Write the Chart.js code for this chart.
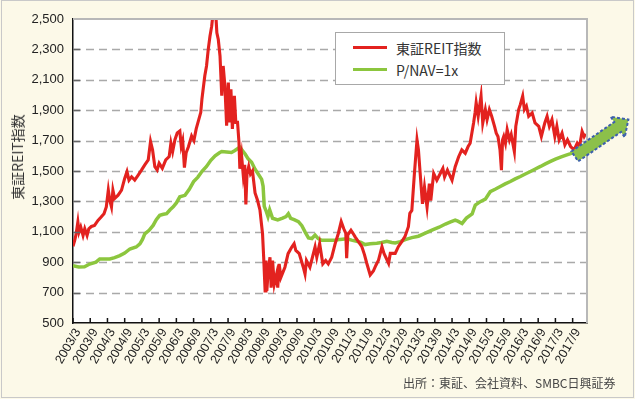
<!DOCTYPE html>
<html lang="ja">
<head>
<meta charset="utf-8">
<title>東証REIT指数とP/NAV=1x</title>
<script src="https://cdn.jsdelivr.net/npm/chart.js@4.4.1/dist/chart.umd.min.js"></script>
<style>
  html, body { margin: 0; padding: 0; background: #fcf9e8; }
  #wrap { position: relative; width: 635px; height: 399px; background: #fcf9e8; overflow: hidden; }
  #frame { position: absolute; left: 1px; top: 0; width: 631px; height: 396px; border: 1px solid #c9c9c9; pointer-events: none; }
  #chart { position: absolute; left: 0; top: 0; }
  #ytitle { position: absolute; left: 17px; top: 157px; transform: translate(-50%, -50%) rotate(-90deg);
            font: 14px "Noto Sans CJK JP", sans-serif; color: #333; white-space: nowrap; }
  #legend { position: absolute; left: 335px; top: 32px; width: 170px; height: 53px; box-sizing: border-box;
            background: #fff; border: 1.5px solid #a8a8a8; }
  #legend .item { position: absolute; left: 0; height: 20px; width: 100%; }
  #legend .swatch { position: absolute; left: 17px; top: 8px; width: 34px; height: 3px; }
  #legend .label { position: absolute; left: 60px; top: 0; line-height: 20px; font: 14px "Noto Sans CJK JP", sans-serif; color: #333; white-space: nowrap; }
  #source { position: absolute; left: 403px; top: 374px; font: 12px "Noto Sans CJK JP", sans-serif; color: #444; white-space: nowrap; }
</style>
</head>
<body>
<div id="wrap">
  <canvas id="chart" width="635" height="399"></canvas>
  <div id="ytitle">東証REIT指数</div>
  <div id="legend"></div>
  <div id="source">出所：東証、会社資料、SMBC日興証券</div>
  <div id="frame"></div>
</div>
<script>
// x = months since 2003/3
const tickLabels = ['2003/3', '2003/9', '2004/3', '2004/9', '2005/3', '2005/9', '2006/3', '2006/9',
  '2007/3', '2007/9', '2008/3', '2008/9', '2009/3', '2009/9', '2010/3', '2010/9', '2011/3', '2011/9',
  '2012/3', '2012/9', '2013/3', '2013/9', '2014/3', '2014/9', '2015/3', '2015/9', '2016/3', '2016/9',
  '2017/3', '2017/9'];
const yTicks = [500, 700, 900, 1100, 1300, 1500, 1700, 1900, 2100, 2300, 2500];

// 東証REIT指数
const reitMonths = [0, 0.6, 1.1, 1.7, 2.1, 2.7, 3.5, 4.1, 4.9, 5.5, 6.4, 7.5, 8.7, 9.8, 10.8, 11.6, 12.3,
  12.8, 13.4, 13.9, 14.5, 15.7, 16.9, 18, 18.8, 19.5, 20.4, 21.5, 22.7, 23.9, 25, 26.2, 27, 27.7, 28.5,
  29.3, 30, 31.1, 32.3, 33.5, 34.1, 34.7, 35.5, 36.3, 37.2, 37.7, 38.2, 38.8, 39.4, 40.2, 41.3, 42.1,
  42.9, 44.5, 44.9, 45.9, 46.5, 47.1, 47.7, 48.3, 48.9, 49.7, 50.1, 50.6, 51.2, 51.8, 52.3, 52.9, 53.5,
  54.1, 54.5, 55, 55.5, 56.2, 56.7, 57.3, 57.8, 58.1, 58.7, 59.3, 59.8, 60.2, 60.6, 61.2, 61.8, 62.5,
  63.4, 64.2, 65.1, 65.6, 66, 66.4, 66.9, 67.2, 67.5, 68, 68.6, 69, 69.5, 70.1, 70.9, 71.3, 71.8, 72.4,
  73.8, 74.9, 76.2, 77, 77.6, 78.8, 80.2, 80.8, 81.3, 82.5, 84.3, 84.9, 85.9, 87, 88, 88.9, 90.1, 91.3,
  92.4, 93.4, 94.3, 95, 95.3, 95.7, 96.8, 97.5, 98.3, 99.2, 100.6, 101.5, 102.3, 103.5, 104.6, 105.5,
  106.4, 107.6, 108.3, 109.9, 110.5, 112.2, 113.3, 114.5, 115.6, 116.8, 117.3, 118, 118.9, 119.8, 120.3,
  120.9, 121.7, 122.4, 123.3, 124.1, 124.6, 125.6, 126.7, 127.9, 128.8, 129.4, 130.4, 132, 133.1, 134.3,
  135.4, 136.6, 137.6, 138.3, 139.5, 140, 140.4, 141.1, 142.1, 142.7, 143.6, 144.2, 145, 145.8, 146.8,
  147.4, 148, 148.7, 149.2, 149.6, 150, 150.6, 151.2, 152, 152.6, 153.7, 154.2, 155.2, 155.8, 156.6,
  157.2, 157.9, 158.7, 159.9, 160.9, 162.2, 163.1, 164.3, 165.1, 165.9, 166.8, 167.8, 168.5, 169.3,
  170.3, 171.3, 172.2, 173.3, 174.5, 175.6, 176.4, 177.3, 178, 178.5];
const reitValues = [1005, 1043, 1087, 1164, 1098, 1131, 1076, 1120, 1076, 1120, 1135, 1142, 1175, 1197,
  1219, 1264, 1374, 1308, 1264, 1374, 1319, 1341, 1374, 1451, 1496, 1440, 1462, 1440, 1473, 1507, 1540,
  1573, 1694, 1639, 1529, 1507, 1551, 1518, 1573, 1595, 1683, 1628, 1706, 1750, 1763, 1664, 1700, 1522,
  1620, 1660, 1730, 1700, 1777, 1886, 1973, 2126, 2191, 2300, 2387, 2453, 2560, 2540, 2409, 2365, 2256,
  1995, 2191, 2060, 1798, 2082, 1820, 2038, 1777, 1995, 1820, 1820, 1689, 1515, 1602, 1471, 1540, 1280,
  1480, 1530, 1480, 1500, 1356, 1311, 1244, 1156, 1089, 933, 711, 911, 711, 850, 933, 733, 911, 756, 822,
  733, 889, 800, 867, 956, 1000, 1022, 978, 956, 867, 822, 911, 867, 1000, 933, 1022, 889, 911, 889, 933,
  1022, 1089, 1167, 1120, 1090, 926, 1080, 1110, 1090, 1065, 1040, 1002, 950, 893, 816, 842, 880, 914,
  1002, 958, 893, 958, 958, 1002, 1035, 1068, 1134, 1222, 1240, 1484, 1705, 1639, 1484, 1284, 1395, 1262,
  1417, 1306, 1484, 1439, 1484, 1517, 1461, 1506, 1439, 1528, 1594, 1639, 1617, 1661, 1683, 1816, 1882,
  1949, 1860, 1993, 1816, 1904, 1838, 1904, 1860, 1794, 1749, 1727, 1640, 1506, 1705, 1727, 1683, 1772,
  1705, 1740, 1628, 1794, 1904, 1938, 1993, 1904, 1927, 1860, 1882, 1816, 1794, 1727, 1816, 1860, 1794,
  1838, 1727, 1794, 1705, 1749, 1672, 1705, 1661, 1639, 1683, 1661, 1760, 1727, 1745];

// P/NAV=1x
const navMonths = [0, 2, 4, 5.8, 8, 9.3, 12.8, 14.5, 16.3, 18, 19.8, 22, 23.3, 24.2, 25, 26.5, 27.9, 29,
  30.2, 31.5, 32.6, 33.8, 34.9, 36, 37.2, 39, 40.5, 42, 43.5, 45, 46.5, 48, 49.5, 51, 51.8, 53.5, 55.2,
  56.4, 58.1, 59, 60, 61, 62.2, 63.4, 64.5, 65.7, 66.2, 66.6, 67.2, 67.9, 68.5, 69.5, 71.3, 73, 74.2, 75,
  75.8, 77, 78.5, 79.7, 80.8, 82, 83.2, 84.3, 85.4, 86.6, 89, 91.3, 93, 95.4, 97, 98.8, 100.3, 101.7,
  103.5, 105.8, 107.5, 109.3, 111, 112.2, 114, 115.7, 118, 120.3, 122.5, 125, 127.5, 129.7, 131.5, 133.1,
  134, 135.5, 137, 139, 139.6, 140.1, 142, 143.6, 145.3, 147, 148.8, 150.5, 152.3, 154, 155.8, 157.5,
  159.3, 161, 162.8, 164.5, 166.3, 168, 169.8, 171.5, 173.3, 175.1];
const navValues = [877, 868, 870, 888, 900, 921, 921, 930, 943, 960, 987, 1000, 1020, 1050, 1087, 1110,
  1142, 1180, 1208, 1215, 1219, 1245, 1264, 1290, 1330, 1340, 1380, 1430, 1460, 1500, 1530, 1570, 1600,
  1620, 1628, 1625, 1622, 1635, 1657, 1635, 1610, 1580, 1558, 1512, 1480, 1445, 1400, 1267, 1240, 1200,
  1244, 1189, 1178, 1190, 1200, 1219, 1189, 1180, 1167, 1140, 1100, 1060, 1056, 1078, 1055, 1044, 1045,
  1044, 1050, 1054, 1045, 1038, 1030, 1016, 1022, 1025, 1030, 1038, 1030, 1027, 1035, 1049, 1062, 1071,
  1090, 1111, 1130, 1151, 1165, 1177, 1170, 1155, 1190, 1217, 1250, 1276, 1300, 1315, 1364, 1380, 1398,
  1415, 1431, 1448, 1464, 1480, 1497, 1513, 1530, 1547, 1563, 1578, 1592, 1603, 1614, 1629];

const toPoints = (xs, ys) => xs.map((m, i) => ({ x: m, y: ys[i] }));

// white plot area, dashed grid, top/right frame, inner ticks and the trend arrow
const decorPlugin = {
  id: 'decor',
  beforeDraw(chart) {
    const { ctx, chartArea: a } = chart;
    ctx.save();
    ctx.fillStyle = '#fff';
    ctx.fillRect(a.left, a.top, a.right - a.left, a.bottom - a.top);
    ctx.restore();
  },
  beforeDatasetsDraw(chart) {
    const { ctx, chartArea: a, scales: { y } } = chart;
    ctx.save();
    ctx.strokeStyle = '#a9a9a9';
    ctx.lineWidth = 1.4;
    ctx.setLineDash([8, 5]);
    ctx.beginPath();
    y.ticks.forEach(t => {
      const py = Math.round(y.getPixelForValue(t.value)) + 0.5;
      if (py > a.top + 2 && py < a.bottom - 2) { ctx.moveTo(a.left, py); ctx.lineTo(a.right, py); }
    });
    ctx.stroke();
    ctx.restore();
  },
  afterDraw(chart) {
    const { ctx, chartArea: a, scales: { x, y } } = chart;
    ctx.save();
    ctx.strokeStyle = '#b8b8b8';
    ctx.lineWidth = 2;
    ctx.beginPath();
    ctx.moveTo(a.left, a.top);
    ctx.lineTo(a.right, a.top);
    ctx.lineTo(a.right, a.bottom);
    ctx.stroke();

    ctx.strokeStyle = '#666';
    ctx.lineWidth = 1.5;
    ctx.beginPath();
    y.ticks.forEach(t => {
      const py = Math.round(y.getPixelForValue(t.value)) + 0.5;
      if (py > a.top + 2 && py < a.bottom - 2) { ctx.moveTo(a.left, py); ctx.lineTo(a.left + 7, py); }
    });
    ctx.stroke();
    ctx.strokeStyle = '#111';
    ctx.beginPath();
    x.ticks.forEach(t => {
      const px = x.getPixelForValue(t.value);
      ctx.moveTo(px, a.bottom); ctx.lineTo(px, a.bottom - 5);
    });
    ctx.stroke();

    // arrow continuing the P/NAV line
    const last = navMonths.length - 1;
    const sx = x.getPixelForValue(navMonths[last]) - 1;
    const sy = y.getPixelForValue(navValues[last]) + 5;
    const len = 65, sw = 6, hw = 12.5, hl = 13;
    ctx.translate(sx, sy);
    ctx.rotate(-34.5 * Math.PI / 180);
    ctx.beginPath();
    ctx.moveTo(0, -sw);
    ctx.lineTo(len - hl, -sw);
    ctx.lineTo(len - hl, -hw);
    ctx.lineTo(len, 0);
    ctx.lineTo(len - hl, hw);
    ctx.lineTo(len - hl, sw);
    ctx.lineTo(0, sw);
    ctx.closePath();
    ctx.fillStyle = '#8cc04a';
    ctx.fill();
    ctx.setLineDash([3, 2]);
    ctx.strokeStyle = '#3c5fae';
    ctx.lineWidth = 2;
    ctx.stroke();
    ctx.restore();
  }
};

const chart = new Chart(document.getElementById('chart'), {
  type: 'line',
  data: {
    datasets: [{
      label: '東証REIT指数',
      data: toPoints(reitMonths, reitValues),
      borderColor: '#e3221f',
      borderWidth: 3.1
    }, {
      label: 'P/NAV=1x',
      data: toPoints(navMonths, navValues),
      borderColor: '#8cc63e',
      borderWidth: 3.5
    }]
  },
  options: {
    responsive: false,
    animation: false,
    devicePixelRatio: 1,
    layout: { padding: { left: 0, right: 48, top: 19, bottom: 0 } },
    elements: { point: { radius: 0 }, line: { tension: 0 } },
    plugins: { legend: { display: false }, tooltip: { enabled: false } },
    scales: {
      x: {
        type: 'linear',
        min: 0,
        max: 179,
        afterBuildTicks: s => { s.ticks = tickLabels.map((_, i) => ({ value: i * 6 })); },
        afterFit: s => { s.height = 76; },
        grid: { display: false, drawTicks: false },
        border: { color: '#111', width: 1.5 },
        ticks: {
          autoSkip: false,
          minRotation: 60,
          maxRotation: 60,
          padding: 3,
          labelOffset: 5,
          color: '#222',
          font: { family: '"Liberation Sans", Arial, sans-serif', size: 12.5 },
          callback: v => tickLabels[Math.round(v / 6)]
        }
      },
      y: {
        min: 500,
        max: 2500,
        afterBuildTicks: s => { s.ticks = yTicks.map(v => ({ value: v })); },
        afterFit: s => { s.width = 73; },
        grid: { display: false, drawTicks: false },
        border: { color: '#111', width: 1.5 },
        ticks: {
          padding: 9,
          color: '#222',
          font: { family: '"Liberation Sans", Arial, sans-serif', size: 13 },
          callback: v => v.toLocaleString('en-US')
        }
      }
    }
  },
  plugins: [decorPlugin]
});

// legend built from the datasets
const legend = document.getElementById('legend');
chart.data.datasets.forEach((ds, i) => {
  const item = document.createElement('div');
  item.className = 'item';
  item.style.top = (5 + i * 22) + 'px';
  item.innerHTML = '<span class="swatch"></span><span class="label"></span>';
  item.querySelector('.swatch').style.background = ds.borderColor;
  item.querySelector('.label').textContent = ds.label;
  legend.appendChild(item);
});
</script>
</body>
</html>
